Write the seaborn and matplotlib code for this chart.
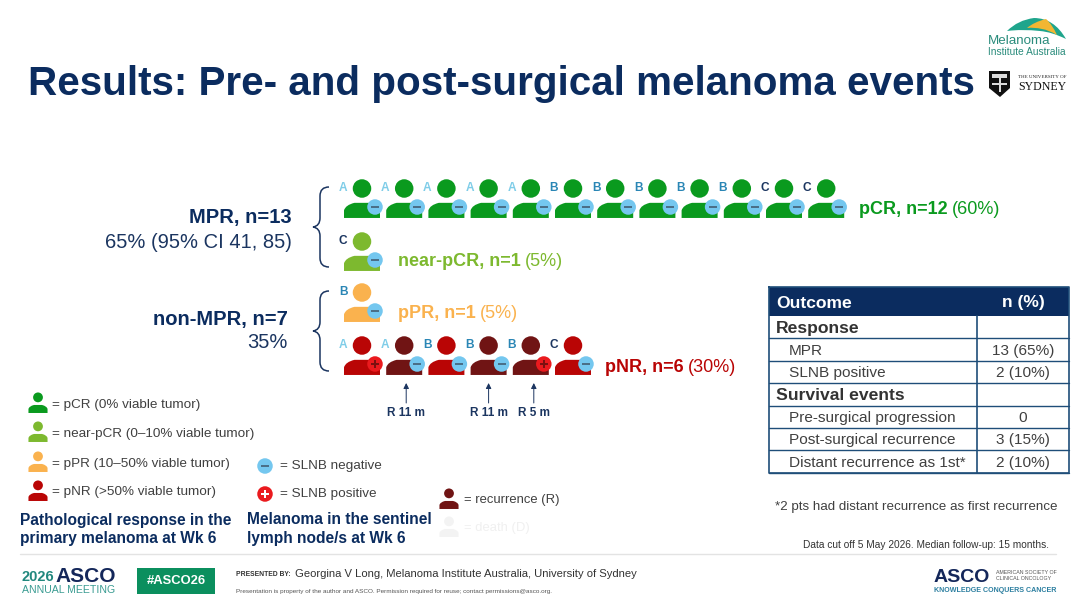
#!/usr/bin/env python3
# -*- coding: utf-8 -*-
"""
Slide: pre- and post-surgical melanoma events, drawn as a pictogram.
The axes run in slide pixels so text and icons can be placed like on the slide.
"""

import pandas as pd
import seaborn as sns
import matplotlib.pyplot as plt
from matplotlib.path import Path
from matplotlib.patches import PathPatch, Rectangle

# patients per row: response group, SLNB result, arm letter
pcr_groups = ["pCR"] * 12
pcr_slnb = ["neg"] * 12
pcr_arms = ["A", "A", "A", "A", "A", "B", "B", "B", "B", "B", "C", "C"]

near_groups = ["near-pCR"]
near_slnb = ["neg"]
near_arms = ["C"]

ppr_groups = ["pPR"]
ppr_slnb = ["neg"]
ppr_arms = ["B"]

pnr_groups = ["pNR", "recurrence", "pNR", "recurrence", "recurrence", "pNR"]
pnr_slnb = ["pos", "neg", "neg", "neg", "pos", "neg"]
pnr_arms = ["A", "A", "B", "B", "B", "C"]

# recurrence arrows: patient position in the pNR row and label
recurrence_index = [1, 3, 4]
recurrence_labels = ["R 11 m", "R 11 m", "R 5 m"]

# table
table_outcomes = ["Response", "MPR", "SLNB positive", "Survival events",
                  "Pre-surgical progression", "Post-surgical recurrence",
                  "Distant recurrence as 1st*"]
table_values = ["", "13 (65%)", "2 (10%)", "", "0", "3 (15%)", "2 (10%)"]
table_is_section = [True, False, False, True, False, False, False]

# legend
legend_groups = ["pCR", "near-pCR", "pPR", "pNR"]
legend_labels = ["= pCR (0% viable tumor)", "= near-pCR (0–10% viable tumor)",
                 "= pPR (10–50% viable tumor)", "= pNR (>50% viable tumor)"]

NAVY = "#0B2C5F"
GREY = "#404040"
FONT = "Liberation Sans"
group_colors = {"pCR": "#0A9A1E", "near-pCR": "#7DB92F", "pPR": "#FAB24E",
                "pNR": "#B90505", "recurrence": "#701414", "death": "#F3F3F3"}
arm_colors = {"A": "#7FCDE8", "B": "#2A86B5", "C": "#1B3560"}
badge_colors = {"neg": "#74C7EF", "pos": "#EA1A1E"}

# marker shapes
BODY = Path(
    [(-1, -0.42), (-1, 0.0), (-0.92, 0.30), (-0.42, 0.42), (0.42, 0.42),
     (0.92, 0.30), (1, 0.0), (1, -0.42), (-1, -0.42)],
    [Path.MOVETO, Path.LINETO, Path.CURVE3, Path.CURVE3, Path.LINETO,
     Path.CURVE3, Path.CURVE3, Path.LINETO, Path.CLOSEPOLY])
MINUS = Path([(-1, -0.2), (1, -0.2), (1, 0.2), (-1, 0.2), (-1, -0.2)], closed=True)
PLUS = Path([(-1, -0.22), (-0.22, -0.22), (-0.22, -1), (0.22, -1), (0.22, -0.22),
             (1, -0.22), (1, 0.22), (0.22, 0.22), (0.22, 1), (-0.22, 1),
             (-0.22, 0.22), (-1, 0.22), (-1, -0.22)], closed=True)

PX = 0.72  # one slide pixel in points at dpi 100


def put(ax, x, y, string, size, color=GREY, weight="normal", ha="left", **kw):
    """Write one text centred vertically on y."""
    return ax.text(x, y, string, fontsize=size, color=color, fontweight=weight,
                   ha=ha, va="center", family=FONT, **kw)


def people_frame(groups, slnb, arms, first_x, bottom, step=42.2):
    """Make a table of one row of patients, placed by index."""
    df = pd.DataFrame({"group": groups, "slnb": slnb, "arm": arms})
    df["x"] = [first_x + i * step for i in range(len(df))]
    df["bottom"] = bottom
    return df


def draw_people(ax, df, scale=1.0):
    """Draw head and body of each person in the frame."""
    head_y = df["bottom"] - 29.5 * scale
    body_y = df["bottom"] - 7.6 * scale
    sns.scatterplot(x=df["x"], y=head_y, hue=df["group"], palette=group_colors,
                    marker="o", s=(18.5 * scale * PX) ** 2, linewidth=0,
                    legend=False, ax=ax)
    sns.scatterplot(x=df["x"], y=body_y, hue=df["group"], palette=group_colors,
                    marker=BODY, s=(36 * scale * PX) ** 2, linewidth=0,
                    legend=False, ax=ax)


def draw_badges(ax, df, sign_color="#7A1010", dx=13, dy=-11, size=15.5):
    """Draw the SLNB circle and its sign on each person."""
    x = df["x"] + dx
    y = df["bottom"] + dy
    sns.scatterplot(x=x, y=y, hue=df["slnb"], palette=badge_colors, marker="o",
                    s=(size * PX) ** 2, linewidth=0, legend=False, ax=ax)
    neg = df["slnb"] == "neg"
    sns.scatterplot(x=x[neg], y=y[neg], color="#4A6F88", marker=MINUS,
                    s=(size * 0.5 * PX) ** 2, linewidth=0, legend=False, ax=ax)
    sns.scatterplot(x=x[~neg], y=y[~neg], color=sign_color, marker=PLUS,
                    s=(size * 0.5 * PX) ** 2, linewidth=0, legend=False, ax=ax)


def draw_arms(ax, df):
    """Write the arm letter left of each head."""
    for _, row in df.iterrows():
        put(ax, row["x"] - 19, row["bottom"] - 30, row["arm"], 8.6,
            color=arm_colors[row["arm"]], weight="bold", ha="center")


def draw_brace(ax, x, top, bottom):
    """Curly bracket opening to the right."""
    mid = (top + bottom) / 2
    verts = [(x + 13, top), (x + 4, top), (x + 4, top + 9), (x + 4, mid - 9),
             (x + 4, mid - 1), (x - 3, mid), (x + 4, mid + 1), (x + 4, mid + 9),
             (x + 4, bottom - 9), (x + 4, bottom), (x + 13, bottom)]
    codes = [Path.MOVETO, Path.CURVE3, Path.CURVE3, Path.LINETO, Path.CURVE3,
             Path.CURVE3, Path.CURVE3, Path.CURVE3, Path.LINETO, Path.CURVE3,
             Path.CURVE3]
    ax.add_patch(PathPatch(Path(verts, codes), fc="none", ec="#1B3560", lw=1.1))


def result_label(ax, x, y, bold, plain, color):
    """Bold text followed by plain text in the same colour."""
    first = put(ax, x, y, bold, 13, color=color, weight="bold")
    box = first.get_window_extent(ax.figure.canvas.get_renderer())
    end = ax.transData.inverted().transform((box.x1, box.y0))[0]
    put(ax, end + 4, y, plain, 13, color=color)


def draw_table(ax):
    """Outcome table with a navy header row."""
    left, mid, right = 769, 977, 1069
    top, head_bottom, row_h = 287, 316, 22.4
    ax.add_patch(Rectangle((left, top), right - left, head_bottom - top,
                           fc="#0B2C5F", ec="none"))
    put(ax, 776, 303, "Outcome", 12.6, color="white", weight="bold")
    put(ax, 1023, 303, "n (%)", 12.6, color="white", weight="bold", ha="center")
    y = head_bottom
    for name, value, section in zip(table_outcomes, table_values, table_is_section):
        mid_y = y + row_h / 2 + 1
        if section:
            put(ax, 776, mid_y, name, 12.6, color="#333333", weight="bold")
        else:
            put(ax, 789, mid_y, name, 11.1)
        put(ax, 1023, mid_y, value, 11.1, ha="center")
        y += row_h
        ax.plot([left, right], [y, y], color="#1F4E79", lw=1)
    ax.plot([left, left, right, right, left], [top, y, y, top, top],
            color="#1F4E79", lw=1.2)
    ax.plot([mid, mid], [head_bottom, y], color="#1F4E79", lw=1.2)


def draw_logos(ax):
    """Rough versions of the logos, shapes and text only."""
    # Melanoma Institute Australia umbrella
    teal = Path([(1007, 31), (1018, 20), (1034, 18), (1054, 18), (1066, 39),
                 (1052, 32), (1040, 31), (1022, 29), (1007, 31)],
                [Path.MOVETO, Path.CURVE3, Path.CURVE3, Path.CURVE3, Path.CURVE3,
                 Path.CURVE3, Path.CURVE3, Path.CURVE3, Path.CURVE3])
    ax.add_patch(PathPatch(teal, fc="#1FA58C", ec="none"))
    sun = Path([(1027, 28), (1034, 22), (1046, 19), (1052, 24), (1057, 35),
                (1049, 30), (1042, 29), (1034, 27), (1027, 28)],
               [Path.MOVETO, Path.CURVE3, Path.CURVE3, Path.CURVE3, Path.CURVE3,
                Path.CURVE3, Path.CURVE3, Path.CURVE3, Path.CURVE3])
    ax.add_patch(PathPatch(sun, fc="#F2B632", ec="none"))
    put(ax, 988, 41, "Melanoma", 9.6, color="#2A8C7C")
    put(ax, 988, 52, "Institute Australia", 7.3, color="#2A8C7C")

    # University of Sydney crest and name
    crest = Path([(989, 71), (1010, 71), (1010, 88), (1000, 97), (989, 88), (989, 71)],
                 closed=True)
    ax.add_patch(PathPatch(crest, fc="#111111", ec="none"))
    ax.add_patch(Rectangle((992, 74), 15, 4, fc="#DDDDDD", ec="none"))
    ax.add_patch(Rectangle((992, 83), 15, 2, fc="#DDDDDD", ec="none"))
    ax.add_patch(Rectangle((998.5, 78), 2, 14, fc="#DDDDDD", ec="none"))
    ax.text(1066, 77, "THE UNIVERSITY OF", fontsize=3.6, color="#222222",
            family="Liberation Serif", ha="right", va="center")
    ax.text(1066, 87, "SYDNEY", fontsize=8.6, color="#111111",
            family="Liberation Serif", ha="right", va="center")

    # ASCO footer marks
    put(ax, 22, 577, "2026", 10.5, color="#22887E", weight="bold")
    put(ax, 55, 576, "ASCO", 15, color="#14275A", weight="bold")
    put(ax, 22, 590, "ANNUAL MEETING", 7.6, color="#3A9C92")
    ax.add_patch(Rectangle((137, 568), 78, 26, fc="#0B8F5E", ec="none"))
    put(ax, 176, 581, "#ASCO26", 9.4, color="white", weight="bold", ha="center")

    put(ax, 934, 577, "ASCO", 14, color="#14275A", weight="bold")
    put(ax, 996, 573, "AMERICAN SOCIETY OF", 3.8, color="#555555")
    put(ax, 996, 579, "CLINICAL ONCOLOGY", 3.8, color="#555555")
    put(ax, 934, 591, "KNOWLEDGE CONQUERS CANCER", 5.1, color="#2C7FA0", weight="bold")


def main():
    sns.set_theme(style="white")
    plt.rcParams["font.family"] = FONT

    fig = plt.figure(figsize=(10.8, 6.08), dpi=100, facecolor="white")
    ax = fig.add_axes([0, 0, 1, 1])

    # patient rows
    rows = [people_frame(pcr_groups, pcr_slnb, pcr_arms, 362, 218),
            people_frame(near_groups, near_slnb, near_arms, 362, 271),
            people_frame(ppr_groups, ppr_slnb, ppr_arms, 362, 322),
            people_frame(pnr_groups, pnr_slnb, pnr_arms, 362, 375)]
    everyone = pd.concat(rows, ignore_index=True)
    draw_people(ax, everyone)
    draw_badges(ax, everyone)

    # fix the pixel scale before anything measures text
    ax.set_xlim(0, 1080)
    ax.set_ylim(608, 0)
    ax.set_autoscale_on(False)
    ax.set_axis_off()

    draw_arms(ax, everyone)

    # recurrence arrows under the pNR row, nudged as on the slide
    for index, label, nudge in zip(recurrence_index, recurrence_labels, [2, 0, 3]):
        x = rows[3]["x"].iloc[index] + nudge
        ax.annotate("", xy=(x, 383), xytext=(x, 403),
                    arrowprops=dict(arrowstyle="-|>", color="#1B3560", lw=0.7,
                                    mutation_scale=8, shrinkA=0, shrinkB=0))
        put(ax, x, 413, label, 8.5, color="#1B3560", weight="bold", ha="center")

    # title
    put(ax, 28, 84, "Results: Pre- and post-surgical melanoma events", 29.1,
        color=NAVY, weight="bold")

    # brackets and group texts
    draw_brace(ax, 316, 187, 267)
    draw_brace(ax, 316, 291, 371)
    put(ax, 292, 218, "MPR, n=13", 14.5, color=NAVY, weight="bold", ha="right")
    put(ax, 292, 243, "65% (95% CI 41, 85)", 14.5, color="#1B3560", ha="right")
    put(ax, 288, 319, "non-MPR, n=7", 14.5, color=NAVY, weight="bold", ha="right")
    put(ax, 288, 343, "35%", 14.5, color="#1B3560", ha="right")

    result_label(ax, 859, 210, "pCR, n=12", "(60%)", group_colors["pCR"])
    result_label(ax, 398, 262, "near-pCR, n=1", "(5%)", group_colors["near-pCR"])
    result_label(ax, 398, 314, "pPR, n=1", "(5%)", group_colors["pPR"])
    result_label(ax, 605, 367, "pNR, n=6", "(30%)", group_colors["pNR"])

    # legends
    legend_people = pd.DataFrame({"group": legend_groups, "x": 38,
                                  "bottom": [413, 442, 472, 501]})
    extra_people = pd.DataFrame({"group": ["recurrence", "death"], "x": 449,
                                 "bottom": [509, 537]})
    draw_people(ax, pd.concat([legend_people, extra_people], ignore_index=True), scale=0.53)
    for label, y in zip(legend_labels, [405, 434, 464, 492]):
        put(ax, 52, y, label, 9.7)
    put(ax, 464, 500, "= recurrence (R)", 9.4)
    put(ax, 464, 528, "= death (D)", 9.4, color="#F0F0F0")

    badge_legend = pd.DataFrame({"slnb": ["neg", "pos"], "x": 265,
                                 "bottom": [466, 494]})
    draw_badges(ax, badge_legend, sign_color="white", dx=0, dy=0)
    put(ax, 280, 466, "= SLNB negative", 9.7)
    put(ax, 280, 494, "= SLNB positive", 9.7)

    put(ax, 20, 520, "Pathological response in the", 11.2, color=NAVY, weight="bold")
    put(ax, 20, 539, "primary melanoma at Wk 6", 11.2, color=NAVY, weight="bold")
    put(ax, 247, 520, "Melanoma in the sentinel", 11.2, color=NAVY, weight="bold")
    put(ax, 247, 539, "lymph node/s at Wk 6", 11.2, color=NAVY, weight="bold")

    # table and notes
    draw_table(ax)
    put(ax, 775, 507, "*2 pts had distant recurrence as first recurrence", 9.6, color="#404040")
    put(ax, 803, 545, "Data cut off 5 May 2026. Median follow-up: 15 months.", 7.3, color="#333333")

    # footer
    ax.plot([20, 1056], [554, 554], color="#E3E3E3", lw=1)
    put(ax, 236, 575, "PRESENTED BY:", 4.9, color="#333333", weight="bold")
    put(ax, 295, 574, "Georgina V Long, Melanoma Institute Australia, University of Sydney",
        8.1, color="#333333")
    put(ax, 236, 591, "Presentation is property of the author and ASCO. "
        "Permission required for reuse; contact permissions@asco.org.", 4.6, color="#555555")
    draw_logos(ax)

    fig.savefig("out.png", dpi=100, facecolor="white")


if __name__ == "__main__":
    main()
